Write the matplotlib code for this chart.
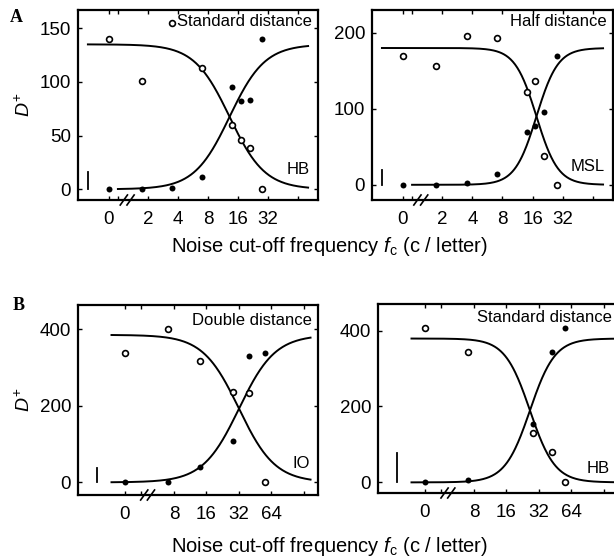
import numpy as np
import matplotlib.pyplot as plt

plt.rcParams['font.family'] = 'Liberation Sans'
plt.rcParams['mathtext.fontset'] = 'custom'
plt.rcParams['mathtext.rm'] = 'Liberation Sans'
plt.rcParams['mathtext.it'] = 'Liberation Sans:italic'

# --- data (D+ versus noise cut-off frequency, c / letter) ---
# panel A
fc_a = [0, 1.75, 3.5, 7, 14, 17, 21, 28]
hb_std_open = [140, 101, 155, 113, 60, 46, 38, 0]
hb_std_filled = [0, 0, 1, 11, 95, 82, 83, 140]
msl_half_open = [169, 156, 196, 193, 122, 136, 38, 0]
msl_half_filled = [0, 0, 2, 14, 70, 77, 96, 169]

# panel B
fc_b_io = [0, 7, 14, 28, 40, 56]
io_double_open = [337, 400, 318, 237, 234, 0]
io_double_filled = [0, 2, 41, 109, 330, 337]
fc_b_hb = [0, 7, 28, 42, 56]
hb_std2_open = [407, 343, 130, 80, 0]
hb_std2_filled = [0, 6, 154, 343, 407]

# logistic fits: asymptote, midpoint (c / letter), slope per octave
fit_top = [135, 180, 385, 379]
fit_mid = [13.2, 17.5, 32, 26.4]
fit_slope = [1.7, 2.8, 1.8, 2.6]

# vertical scale bars
bar_height = [16, 19, 37, 77]

tick_a = ['0', '2', '4', '8', '16', '32']
tick_b = ['0', '8', '16', '32', '64']

W, H = 614, 560
fig = plt.figure(figsize=(W / 100, H / 100), dpi=100)


def rect(x0, y0, x1, y1):
    return [x0 / W, 1 - y1 / H, (x1 - x0) / W, (y1 - y0) / H]


def octaves(fc, zero_pos):
    fc = np.asarray(fc, float)
    return np.where(fc > 0, np.log2(np.where(fc > 0, fc, 1)), zero_pos)


def axis_break(ax, x):
    x0, x1 = ax.get_xlim()
    fx = (x - x0) / (x1 - x0)
    for off in (-0.014, 0.014):
        ax.plot([fx + off - 0.017, fx + off + 0.017], [-0.03, 0.03],
                transform=ax.transAxes, color='k', lw=1.2, clip_on=False,
                solid_capstyle='butt')


panels = [
    dict(rect=rect(78, 10, 318, 200), fc=fc_a, o=hb_std_open, f=hb_std_filled,
         xlim=(-1.33, 6.67), ylim=(-10, 167), yticks=[0, 50, 100, 150],
         zero=-0.31, ticks=[1, 2, 3, 4, 5], labels=tick_a, minor=[0, 6],
         desc=(-1, 6.34), asc=(0, 6.34), bar_x=-1, brk=0.31,
         cond='Standard distance', obs='HB', cy=0.937, oy=0.158, ylabel=True),
    dict(rect=rect(372, 10, 613, 200), fc=fc_a, o=msl_half_open, f=msl_half_filled,
         xlim=(-1.33, 6.67), ylim=(-20, 230), yticks=[0, 100, 200],
         zero=-0.31, ticks=[1, 2, 3, 4, 5], labels=tick_a, minor=[0, 6],
         desc=(-1, 6.34), asc=(0, 6.34), bar_x=-1, brk=0.29,
         cond='Half distance', obs='MSL', cy=0.937, oy=0.174, ylabel=False),
    dict(rect=rect(78, 305, 318, 495), fc=fc_b_io, o=io_double_open, f=io_double_filled,
         xlim=(0.05, 7.43), ylim=(-33, 463), yticks=[0, 200, 400],
         zero=1.48, ticks=[3, 4, 5, 6], labels=tick_b, minor=[2, 7],
         desc=(1.08, 7.2), asc=(1.08, 7.2), bar_x=0.64, brk=2.19,
         cond='Double distance', obs='IO', cy=0.921, oy=0.168, ylabel=True),
    dict(rect=rect(378, 304, 618, 493), fc=fc_b_hb, o=hb_std2_open, f=hb_std2_filled,
         xlim=(0.05, 7.43), ylim=(-28, 470), yticks=[0, 200, 400],
         zero=1.48, ticks=[3, 4, 5, 6], labels=tick_b, minor=[2, 7],
         desc=(1.08, 7.4), asc=(1.08, 7.4), bar_x=0.64, brk=2.2,
         cond='Standard distance', obs='HB', cy=0.926, oy=0.13, ylabel=False),
]

for i, p in enumerate(panels):
    ax = fig.add_axes(p['rect'])
    ax.set_xlim(*p['xlim'])
    ax.set_ylim(*p['ylim'])

    # fitted curves
    top, mid, k = fit_top[i], np.log2(fit_mid[i]), fit_slope[i]
    xd = np.linspace(*p['desc'], 300)
    ax.plot(xd, top / (1 + np.exp(k * (xd - mid))), color='k', lw=1.4)
    xa = np.linspace(*p['asc'], 300)
    ax.plot(xa, top - top / (1 + np.exp(k * (xa - mid))), color='k', lw=1.4)

    x = octaves(p['fc'], p['zero'])
    ax.plot(x, p['f'], 'o', color='k', ms=4.3, mew=0, clip_on=False, zorder=3)
    ax.plot(x, p['o'], 'o', mfc='white', mec='k', ms=4.2, mew=1.2,
            clip_on=False, zorder=3)

    ax.plot([p['bar_x'], p['bar_x']], [0, bar_height[i]], color='k', lw=1.3)

    ax.set_xticks([p['zero']] + p['ticks'])
    ax.set_xticklabels(p['labels'])
    ax.set_xticks(p['minor'], minor=True)
    ax.set_yticks(p['yticks'])
    ax.tick_params(which='both', direction='in', top=True, right=True,
                   length=3, width=1, labelsize=13.5)
    ax.tick_params(axis='x', pad=8)
    ax.tick_params(axis='y', pad=5)
    for s in ax.spines.values():
        s.set_linewidth(1.6)

    axis_break(ax, p['brk'])

    ax.text(0.975, p['cy'], p['cond'], transform=ax.transAxes,
            ha='right', va='center', fontsize=12)
    ax.text(0.965, p['oy'], p['obs'], transform=ax.transAxes,
            ha='right', va='center', fontsize=12)
    if p['ylabel']:
        ax.set_ylabel(r'$D^{+}$', fontsize=14, labelpad=4)

xlab = r'Noise cut-off frequency $f_{\rm c}$ (c / letter)'
fig.text(0.537, 1 - 247 / H, xlab, ha='center', va='center', fontsize=14.5)
fig.text(0.537, 1 - 547 / H, xlab, ha='center', va='center', fontsize=14.5)

fig.text(10 / W, 1 - 18 / H, 'A', fontfamily='Liberation Serif',
         fontweight='bold', fontsize=13, va='center')
fig.text(13 / W, 1 - 306 / H, 'B', fontfamily='Liberation Serif',
         fontweight='bold', fontsize=13, va='center')

fig.savefig('out.png', dpi=100)
